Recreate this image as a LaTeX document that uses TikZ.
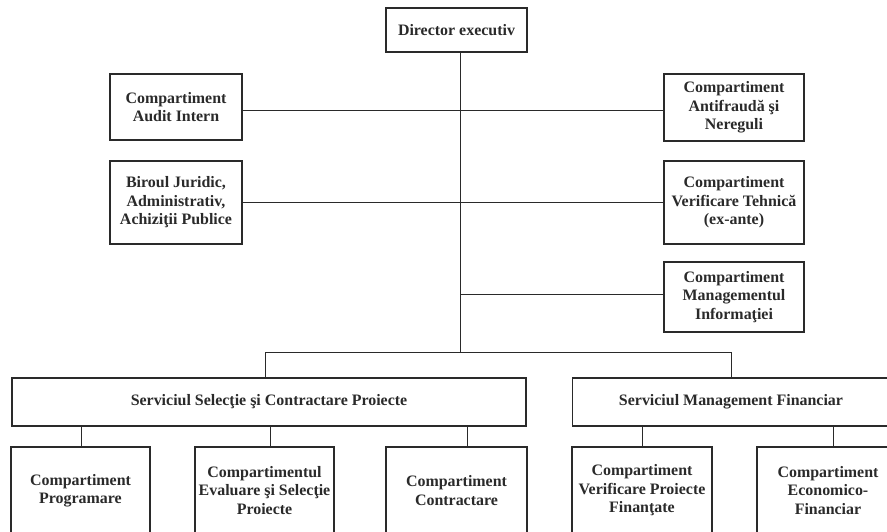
\documentclass[tikz,border=0pt]{standalone}
\usepackage{fontspec}
\setmainfont{Liberation Serif}
\usetikzlibrary{calc}
\definecolor{ink}{HTML}{2A2A2A}
\tikzset{
  box/.style={draw=ink, line width=1.7pt, fill=white, text=ink, align=center,
    font=\bfseries\fontsize{16}{18.5}\selectfont, inner sep=1pt},
  link/.style={draw=ink, line width=0.8pt}
}
\newcommand{\bx}[6]{% name, x1, x2, y1, y2, text
  \node[box, minimum width={#3-#2}, minimum height={#5-#4}] (#1) at ({(#2+#3)/2},{(#4+#5)/2}) {#6};}
\begin{document}
\begin{tikzpicture}[x=1bp,y=-1bp]
\useasboundingbox (0,0) rectangle (887,532);
\clip (0,0) rectangle (887,532);
\coordinate (top) at (460,52);
\coordinate (t) at (460,352);
\coordinate (h1) at (0,110);
\coordinate (h2) at (0,202);
\coordinate (h3) at (460,294);
\coordinate (bl) at (265,352);
\coordinate (br) at (731,352);
% boxes
\bx{dir}{386}{527}{8}{52}{Director executiv}
\bx{audit}{110}{242}{74}{140}{Compartiment\\Audit Intern}
\bx{biroul}{110}{242}{161}{244}{Biroul Juridic,\\Administrativ,\\Achiziţii Publice}
\bx{anti}{664}{804}{74}{141}{Compartiment\\Antifraudă şi\\Nereguli}
\bx{verif}{664}{804}{161}{244}{Compartiment\\Verificare Tehnică\\(ex-ante)}
\bx{mgmt}{664}{804}{262}{332}{Compartiment\\Managementul\\Informaţiei}
\bx{ssc}{11}{527}{378}{426}{Serviciul Selecţie şi Contractare Proiecte}
\bx{smf}{572}{890}{378}{426}{Serviciul Management Financiar}
\bx{prog}{11}{150}{447}{534}{Compartiment\\Programare}
\bx{eval}{195}{334}{447}{534}{Compartimentul\\Evaluare şi Selecţie\\Proiecte}
\bx{contr}{386}{527}{447}{534}{Compartiment\\Contractare}
\bx{vpf}{572}{712}{447}{534}{Compartiment\\Verificare Proiecte\\Finanţate}
\bx{eco}{757}{899}{447}{534}{Compartiment\\Economico-\\Financiar}
% connectors
\draw[link] (dir.south -| top) -- (t);
\draw[link] (audit.east |- h1) -- (anti.west |- h1);
\draw[link] (biroul.east |- h2) -- (verif.west |- h2);
\draw[link] (h3) -- (mgmt.west |- h3);
\draw[link] (bl) -- (br);
\draw[link] (bl) -- (ssc.north -| bl);
\draw[link] (br) -- (smf.north -| br);
\foreach \xx/\child in {81/prog, 270/eval, 467/contr}{
  \draw[link] (ssc.south -| {\xx,0}) -- (\child.north -| {\xx,0});
}
\foreach \xx/\child in {642/vpf, 833/eco}{
  \draw[link] (smf.south -| {\xx,0}) -- (\child.north -| {\xx,0});
}
\end{tikzpicture}
\end{document}
